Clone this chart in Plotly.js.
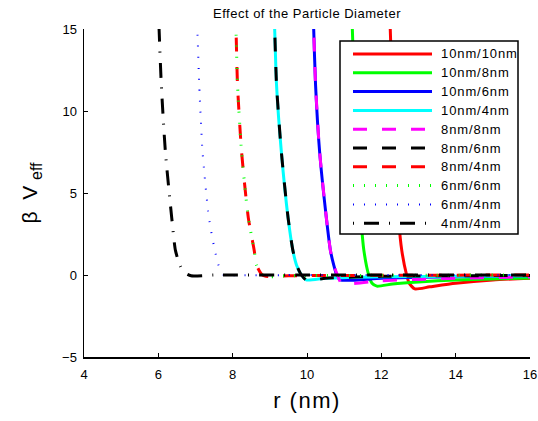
<!DOCTYPE html>
<html>
<head>
<meta charset="utf-8">
<script src="https://cdn.plot.ly/plotly-3.0.1.min.js"></script>
<style>html,body{margin:0;padding:0;background:#fff}#chart{width:538px;height:421px}</style>
</head>
<body>
<div id="chart"></div>
<script>
// Series names (legend)
const names = ["10nm/10nm","10nm/8nm","10nm/6nm","10nm/4nm","8nm/8nm","8nm/6nm","8nm/4nm","6nm/6nm","6nm/4nm","4nm/4nm"];

// r (nm) and beta*V_eff values
const r_10_10 = [12.20, 12.24, 12.29, 12.36, 12.46, 12.55, 12.68, 12.75, 12.90, 13.30, 14.00, 15.00, 16.00];
const v_10_10 = [18, 15, 11.6, 7.5, 3.5, 1.5, 0, -0.5, -0.85, -0.72, -0.5, -0.3, -0.2];

const r_10_8 = [11.18, 11.22, 11.27, 11.35, 11.45, 11.53, 11.66, 11.75, 11.88, 12.30, 13.00, 14.00, 16.00];
const v_10_8 = [18, 15, 11.6, 7.5, 3.5, 1.5, 0, -0.5, -0.68, -0.55, -0.42, -0.3, -0.18];

const r_10_6 = [10.14, 10.18, 10.23, 10.34, 10.52, 10.63, 10.72, 10.80, 10.90, 12.00, 14.00, 16.00];
const v_10_6 = [18, 15, 11.6, 7.5, 3.5, 1.5, 0.6, 0, -0.3, -0.2, -0.1, -0.05];

const r_10_4 = [9.08, 9.13, 9.18, 9.31, 9.49, 9.62, 9.72, 9.85, 9.98, 10.50, 12.00, 16.00];
const v_10_4 = [18, 15, 11.6, 7.5, 3.5, 1.5, 0.6, 0, -0.3, -0.2, -0.1, -0.05];

const r_8_8 = [10.14, 10.18, 10.23, 10.34, 10.52, 10.63, 10.72, 10.82, 10.93, 12.00, 14.00, 16.00];
const v_8_8 = [18, 15, 11.6, 7.5, 3.5, 1.5, 0.6, 0, -0.5, -0.35, -0.2, -0.12];

const r_8_6 = [9.08, 9.13, 9.18, 9.31, 9.49, 9.62, 9.72, 9.85, 10.00, 10.50, 12.00, 16.00];
const v_8_6 = [18, 15, 11.6, 7.5, 3.5, 1.5, 0.6, 0, -0.35, -0.2, -0.08, -0.03];

const r_8_4 = [8.05, 8.09, 8.13, 8.24, 8.42, 8.58, 8.64, 8.80, 9.00, 9.50, 12.00, 16.00];
const v_8_4 = [18, 15, 11.6, 7.5, 3.5, 1.5, 0.6, 0, -0.1, -0.05, -0.02, 0];

const r_6_6 = [8.05, 8.09, 8.13, 8.24, 8.42, 8.58, 8.64, 8.80, 9.00, 9.50, 12.00, 16.00];
const v_6_6 = [18, 15, 11.6, 7.5, 3.5, 1.5, 0.6, 0, -0.1, -0.05, -0.02, 0];

const r_6_4 = [6.99, 7.05, 7.10, 7.19, 7.36, 7.52, 7.62, 7.76, 7.95, 10.00, 16.00];
const v_6_4 = [18, 15, 11.6, 7.5, 3.5, 1.5, 0.6, 0, -0.02, 0, 0];

const r_4_4 = [5.97, 6.02, 6.08, 6.19, 6.36, 6.46, 6.58, 6.70, 6.88, 7.50, 10.00, 16.00];
const v_4_4 = [18, 15, 11.6, 7.5, 3.5, 1.5, 0.6, 0.15, -0.05, 0, 0, 0];

const xTicks = [4, 6, 8, 10, 12, 14, 16];
const yTicks = [-5, 0, 5, 10, 15];

const xs = [r_10_10, r_10_8, r_10_6, r_10_4, r_8_8, r_8_6, r_8_4, r_6_6, r_6_4, r_4_4];
const ys = [v_10_10, v_10_8, v_10_6, v_10_4, v_8_8, v_8_6, v_8_4, v_6_6, v_6_4, v_4_4];
const styles = [
  {color: "#ff0000", dash: "solid", width: 3},
  {color: "#00ff00", dash: "solid", width: 3},
  {color: "#0000ff", dash: "solid", width: 3},
  {color: "#00ffff", dash: "solid", width: 3},
  {color: "#ff00ff", dash: "14px,15px", width: 3},
  {color: "#000000", dash: "14px,15px", width: 3},
  {color: "#ff0000", dash: "14px,15px", width: 3},
  {color: "#00ff00", dash: "1px,10px", width: 3},
  {color: "#0000ff", dash: "1px,10px", width: 2},
  {color: "#000000", dash: "1px,10px,15px,10px", width: 3}
];

const traces = names.map((n, i) => ({
  x: xs[i], y: ys[i], name: n, type: "scatter", mode: "lines", showlegend: false,
  line: {color: styles[i].color, dash: styles[i].dash, width: styles[i].width, shape: "spline", smoothing: 0.6}
}));

// Layout geometry
const W = 538, H = 421;
const M = {l: 84, r: 8, t: 29, b: 64};
const pw = W - M.l - M.r, ph = H - M.t - M.b;
const px2x = px => (px - M.l) / pw;          // pixel -> paper x
const py2y = py => (H - M.b - py) / ph;       // pixel -> paper y

// Hand-built legend (MATLAB-style: long samples, tight rows)
const box = {x0: 340, x1: 518, y0: 41, y1: 234};
const rowTop = 54, rowStep = 18.8, sampleX0 = 353, sampleX1 = 432, textX = 439;
const shapes = [{type: "rect", xref: "paper", yref: "paper", layer: "above",
  x0: px2x(box.x0), x1: px2x(box.x1), y0: py2y(box.y1), y1: py2y(box.y0),
  fillcolor: "#fff", line: {color: "#000", width: 1.5}}];
const annotations = [];
names.forEach((n, i) => {
  const yy = py2y(rowTop + i * rowStep);
  shapes.push({type: "line", xref: "paper", yref: "paper", layer: "above",
    x0: px2x(sampleX0), x1: px2x(sampleX1), y0: yy, y1: yy,
    line: {color: styles[i].color, dash: styles[i].dash, width: styles[i].width}});
  annotations.push({xref: "paper", yref: "paper", x: px2x(textX), y: yy, xanchor: "left", yanchor: "middle",
    showarrow: false, text: "<span style='letter-spacing:0.9px'>" + n + "</span>",
    font: {size: 13, color: "#000"}});
});

const font = "Arial, 'Liberation Sans', sans-serif";
const layout = {
  width: W, height: H,
  margin: M,
  paper_bgcolor: "#fff", plot_bgcolor: "#fff",
  font: {family: font, color: "#000", size: 13},
  title: {text: "<span style='letter-spacing:0.5px'>Effect of the Particle Diameter</span>",
          font: {size: 13, family: font, color: "#000"},
          x: 0.5, xref: "paper", y: 0.967, yref: "container", yanchor: "middle"},
  showlegend: false,
  shapes: shapes,
  annotations: annotations,
  xaxis: {range: [4, 16], tickvals: xTicks, ticktext: xTicks.map(String), showline: true, linecolor: "#000",
          linewidth: 1.5, ticks: "inside", ticklen: 4, tickcolor: "#000", showgrid: false, zeroline: false,
          ticklabelstandoff: 5,
          tickfont: {size: 13}, title: {text: "<span style='letter-spacing:1.5px'>r (nm)</span>", font: {size: 22}, standoff: 11}},
  yaxis: {range: [-5, 15], tickvals: yTicks, showline: true, linecolor: "#000",
          linewidth: 1.5, ticks: "inside", ticklen: 4, tickcolor: "#000", showgrid: false, zeroline: false,
          ticklabelstandoff: 3,
          tickfont: {size: 13}, title: {text: "β  V <sub><span style='font-size:16px'>eff</span></sub>", font: {size: 21}, standoff: 18}}
};
Plotly.newPlot("chart", traces, layout, {staticPlot: true});
</script>
</body>
</html>
